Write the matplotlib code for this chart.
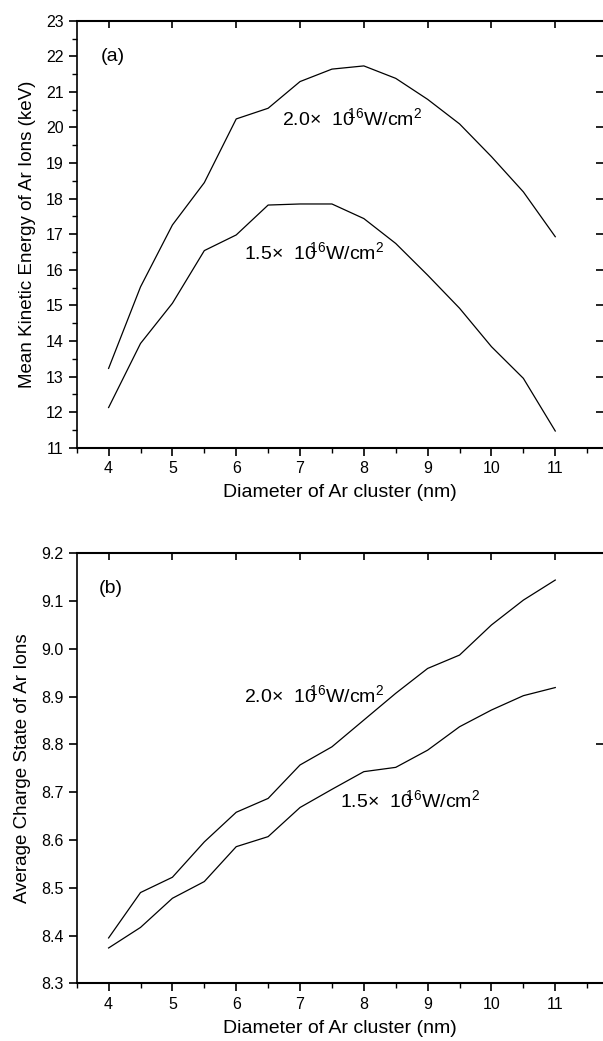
import matplotlib
matplotlib.use("Agg")
import matplotlib.pyplot as plt
from matplotlib.ticker import MultipleLocator

plt.rcParams['font.family'] = ['Liberation Sans', 'DejaVu Sans']
plt.rcParams['mathtext.fontset'] = 'custom'
plt.rcParams['mathtext.rm'] = 'Liberation Sans'
plt.rcParams['mathtext.it'] = 'Liberation Sans'

diameter = [4, 4.5, 5, 5.5, 6, 6.5, 7, 7.5, 8, 8.5, 9, 9.5, 10, 10.5, 11]

# (a) mean kinetic energy (keV)
energy_20 = [13.23, 15.52, 17.26, 18.45, 20.24, 20.54, 21.29, 21.64, 21.73,
             21.38, 20.79, 20.10, 19.18, 18.19, 16.93]
energy_15 = [12.13, 13.93, 15.06, 16.54, 16.98, 17.82, 17.85, 17.85, 17.44,
             16.74, 15.85, 14.92, 13.84, 12.95, 11.47]

# (b) average charge state
charge_20 = [8.395, 8.490, 8.522, 8.596, 8.658, 8.687, 8.757, 8.795, 8.851,
             8.907, 8.959, 8.987, 9.050, 9.102, 9.144]
charge_15 = [8.374, 8.417, 8.478, 8.513, 8.586, 8.607, 8.668, 8.706, 8.743,
             8.752, 8.788, 8.837, 8.872, 8.902, 8.919]

label_20 = "2.0\u00d7  10$^{\\!\\!\\!16}$W/cm$^{2}$"
label_15 = "1.5\u00d7  10$^{\\!\\!\\!16}$W/cm$^{2}$"

fig = plt.figure(figsize=(6.03, 10.41), dpi=100)
ax_a = fig.add_axes([0.1272, 0.5699, 0.873, 0.4102])
ax_b = fig.add_axes([0.1272, 0.0554, 0.873, 0.4131])


def style(ax, ylim, ymajor, yminor, right_ticks):
    ax.set_xlim(3.5, 11.75)
    ax.set_ylim(*ylim)
    ax.xaxis.set_major_locator(MultipleLocator(1))
    ax.xaxis.set_minor_locator(MultipleLocator(0.5))
    ax.yaxis.set_major_locator(MultipleLocator(ymajor))
    if yminor:
        ax.yaxis.set_minor_locator(MultipleLocator(yminor))
    ax.tick_params(which='major', direction='out', length=6, width=1.2,
                   labelsize=11.5, top=False, right=False)
    ax.tick_params(which='minor', direction='out', length=3.5, width=1.0,
                   top=False, right=False)
    ax.spines['right'].set_visible(False)
    for s in ['top', 'bottom']:
        ax.spines[s].set_linewidth(1.5)
    ax.spines['left'].set_linewidth(1.2)
    ax.set_xlabel("Diameter of Ar cluster (nm)", fontsize=14, labelpad=6)

    top = ax.secondary_xaxis('top')
    top.set_xticks(range(4, 12))
    top.tick_params(direction='in', length=5, width=1.2, labeltop=False)
    top.spines['top'].set_visible(False)

    right = ax.secondary_yaxis('right')
    right.set_yticks(right_ticks)
    right.tick_params(direction='in', length=5, width=1.2, labelright=False)
    right.spines['right'].set_visible(False)


ax_a.plot(diameter, energy_20, color='black', lw=0.9)
ax_a.plot(diameter, energy_15, color='black', lw=0.9)
style(ax_a, (11, 23), 1, 0.5, list(range(12, 23)))
ax_a.set_ylabel("Mean Kinetic Energy of Ar Ions (keV)", fontsize=13.5, labelpad=7)
ax_a.text(3.87, 21.99, "(a)", fontsize=14, va='center', ha='left')
ax_a.text(6.71, 20.26, label_20, fontsize=14, va='center', ha='left')
ax_a.text(6.12, 16.51, label_15, fontsize=14, va='center', ha='left')

ax_b.plot(diameter, charge_20, color='black', lw=0.9)
ax_b.plot(diameter, charge_15, color='black', lw=0.9)
style(ax_b, (8.3, 9.2), 0.1, None, [8.8])
ax_b.yaxis.set_major_formatter(matplotlib.ticker.FormatStrFormatter('%.1f'))
ax_b.set_ylabel("Average Charge State of Ar Ions", fontsize=13.5, labelpad=7)
ax_b.text(3.85, 9.127, "(b)", fontsize=14, va='center', ha='left')
ax_b.text(6.12, 8.903, label_20, fontsize=14, va='center', ha='left')
ax_b.text(7.62, 8.684, label_15, fontsize=14, va='center', ha='left')

fig.savefig("out.png", dpi=100)
